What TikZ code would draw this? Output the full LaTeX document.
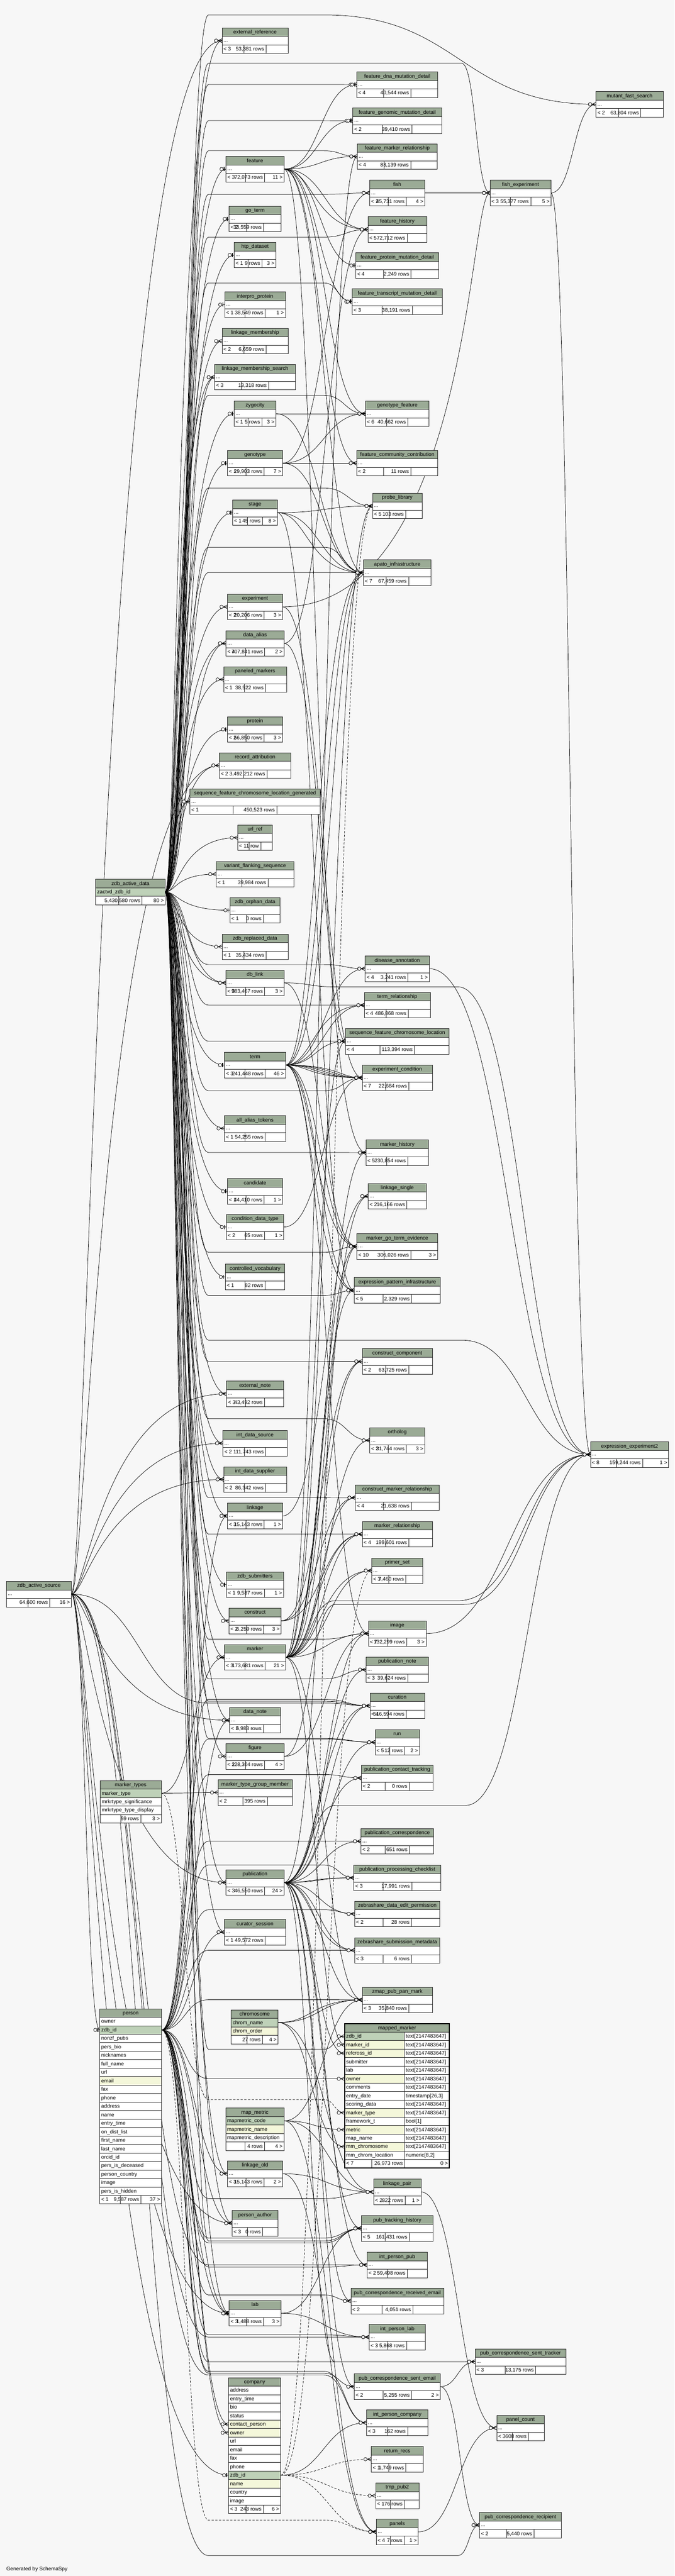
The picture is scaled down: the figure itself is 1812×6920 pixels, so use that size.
\documentclass[tikz,border=0pt]{standalone}
\usepackage{fontspec}
\setmainfont{Liberation Sans}
\usetikzlibrary{calc}
\pgfdeclarelayer{bglayer}
\pgfdeclarelayer{edges}
\pgfdeclarelayer{marks}
\pgfsetlayers{bglayer,edges,marks,main}
\definecolor{bg}{HTML}{F7F7F7}
\definecolor{hdr}{HTML}{9BAB96}
\definecolor{pk}{HTML}{BED1B8}
\definecolor{idx}{HTML}{F4F7DA}
\newlength\twd
\newcommand\tfont{\fontsize{14}{16}\selectfont}
\tikzset{
 cellbox/.style={draw=black!85, line width=0.9pt, inner sep=0pt, outer sep=0pt, minimum height=22.8pt, anchor=north},
 hdrbox/.style={cellbox, fill=hdr},
 rowbox/.style={cellbox, fill=white},
 cellline/.style={draw=black!85, line width=0.9pt},
 tblnode/.style={inner sep=0pt, outer sep=0pt, minimum height=68.4pt, anchor=north},
 txt/.style={inner sep=0pt, outer sep=0pt, font=\tfont},
 conn/.style={draw=black, line width=1pt},
 imp/.style={dash pattern=on 6pt off 4pt},
 mkline/.style={draw=black, line width=1pt},
}
% footer row
\newcommand\tfoot[7]{%
  \node[rowbox, minimum width=#4pt] (#1-f) at (#2,#3) {};
  \settowidth{\twd}{\tfont #6}%
  \pgfmathsetmacro\mw{max(\twd+12,#4/3)}%
  \draw[cellline] ({#2-\mw/2},{#3}) -- ++(0,22.8);
  \draw[cellline] ({#2+\mw/2},{#3}) -- ++(0,22.8);
  \node[txt, anchor=base west] (#1-fl) at ({#2-#4/2+4},{#3+16}) {#5};
  \node[txt, anchor=base east] (#1-fm) at ({#2+\mw/2-5},{#3+16}) {#6};
  \node[txt, anchor=base east] (#1-fr) at ({#2+#4/2-4},{#3+16}) {#7};
}
% collapsed table: name cx top width title left mid right
\newcommand\tbl[8]{%
  \node[tblnode, minimum width=#4pt] (#1) at (#2,#3) {};
  \node[hdrbox, minimum width=#4pt] (#1-h) at (#2,#3) {};
  \node[txt, anchor=base] (#1-ht) at (#2,{#3+16}) {#5};
  \node[rowbox, minimum width=#4pt] (#1-r) at (#2,{#3+22.8}) {};
  \node[txt, anchor=base west] (#1-rt) at ({#2-#4/2+4},{#3+22.8+15}) {...};
  \tfoot{#1}{#2}{#3+45.6}{#4}{#6}{#7}{#8}%
}
% expanded table: name cx top width title nrows rows
\newcommand\xtbl[7]{%
  \pgfmathsetmacro\xh{22.8*(#6+2)}%
  \node[tblnode, minimum width=#4pt, minimum height=\xh pt] (#1) at (#2,#3) {};
  \node[hdrbox, minimum width=#4pt] (#1-h) at (#2,#3) {};
  \node[txt, anchor=base] (#1-ht) at (#2,{#3+16}) {#5};
  \foreach [count=\i] \rc/\rtx in {#7}{%
    \node[cellbox, fill=\rc, minimum width=#4pt] (#1-\i) at (#2,{#3+22.8*\i}) {};
    \node[txt, anchor=base west] (#1-\i-t) at ({#2-#4/2+4},{#3+22.8*\i+16}) {\rtx};
  }%
}
% end markers
\newcommand\mkm[1]{%
  \draw[mkline] ($(#1)+(-11,0)$) -- ($(#1)+(0,-5)$) ($(#1)+(-11,0)$) -- ($(#1)+(0,5)$) ($(#1)+(-11,0)$) -- (#1);
  \draw[mkline, fill=bg] ($(#1)+(-16,0)$) circle[radius=4.5];}
\newcommand\mko[1]{%
  \draw[mkline, line width=2pt] ($(#1)+(-5,-5.5)$) -- ($(#1)+(-5,5.5)$);
  \draw[mkline, fill=bg] ($(#1)+(-12,0)$) circle[radius=4.5];}
% connectors
\newcommand\Ea[6][]{%
  \begin{pgfonlayer}{edges}
  \draw[conn,#1] let \p1=(#2), \p2=(#3), \n1={#5*(\x2-\x1)}, \n2={#6*(\x2-\x1)} in
    (\p1) .. controls +(\n1,0pt) and +(-\n2,0pt) .. (\p2);
  \end{pgfonlayer}
  \begin{pgfonlayer}{marks}\csname mk#4\endcsname{#3}\end{pgfonlayer}}
\newcommand\Ed[4][]{\Ea[#1]{#2}{#3}{#4}{0.5}{0.5}}
\newcommand\Ez[4][]{\Ea[#1]{#2}{#3}{#4}{0.2}{0.8}}
\newcommand\Eg[7][]{%
  \begin{pgfonlayer}{edges}
  \draw[conn,#1] let \p1=(#2), \p2=(#3), \p3=(#6,#5), \p4=(#7,#5),
      \n1={0.5*(\x3-\x1)}, \n2={0.5*(\x2-\x4)} in
    (\p1) .. controls +(\n1,0pt) and +(-\n1,0pt) .. (\p3) -- (\p4)
      .. controls +(\n2,0pt) and +(-\n2,0pt) .. (\p2);
  \end{pgfonlayer}
  \begin{pgfonlayer}{marks}\csname mk#4\endcsname{#3}\end{pgfonlayer}}
\newcommand\Eb[5][]{\Eg[#1]{#2}{#3}{#4}{#5}{560}{870}}
\begin{document}
\begin{tikzpicture}[x=1pt, y=-1pt, font=\tfont]
\useasboundingbox (0,0) rectangle (1812,6920);
\begin{pgfonlayer}{bglayer}
\fill[bg] (0,0) rectangle (1812,6920);
\end{pgfonlayer}

% ---------------- column A / B
\tbl{zas}{104.5}{4248}{175}{zdb\_active\_source}{}{64,600 rows}{16 >}
\xtbl{zad}{350.5}{2362}{187}{zdb\_active\_data}{1}{pk/zactvd\_zdb\_id}
\tfoot{zad}{350.5}{2362+45.6}{187}{}{5,430,580 rows}{80 >}
\xtbl{mtypes}{351}{4783}{164}{marker\_types}{3}{pk/marker\_type, white/mrkrtype\_significance, white/mrkrtype\_type\_display}
\tfoot{mtypes}{351}{4783+91.2}{164}{}{59 rows}{3 >}
\xtbl{person}{351}{5396}{166}{person}{21}{white/owner, pk/zdb\_id, white/nonzf\_pubs, white/pers\_bio, white/nicknames, white/full\_name, white/url, idx/email, white/fax, white/phone, white/address, white/name, white/entry\_time, white/on\_dist\_list, white/first\_name, white/last\_name, white/orcid\_id, white/pers\_is\_deceased, white/person\_country, white/image, white/pers\_is\_hidden}
\tfoot{person}{351}{5396+501.6}{166}{< 1}{9,587 rows}{37 >}

% ---------------- column C
\tbl{extref}{685}{75}{177}{external\_reference}{< 3}{53,381 rows}{}
\tbl{feature}{685}{420}{156}{feature}{< 3}{72,073 rows}{11 >}
\tbl{goterm}{685}{554}{139}{go\_term}{< 2}{33,559 rows}{}
\tbl{htp}{685}{651}{112}{htp\_dataset}{< 1}{9 rows}{3 >}
\tbl{interpro}{685}{784}{163}{interpro\_protein}{< 1}{38,549 rows}{1 >}
\tbl{lm}{685}{882}{177}{linkage\_membership}{< 2}{6,659 rows}{}
\tbl{lms}{685}{979}{217}{linkage\_membership\_search}{< 3}{13,318 rows}{}
\tbl{zyg}{685}{1077}{112}{zygocity}{< 1}{5 rows}{3 >}
\tbl{genotype}{685}{1210}{148}{genotype}{< 1}{29,903 rows}{7 >}
\tbl{stage}{685}{1343}{120}{stage}{< 1}{45 rows}{8 >}
\tbl{experiment}{685}{1596}{148}{experiment}{< 2}{20,206 rows}{3 >}
\tbl{dalias}{685}{1694}{156}{data\_alias}{< 4}{707,841 rows}{2 >}
\tbl{paneled}{685}{1791}{169}{paneled\_markers}{< 1}{38,522 rows}{}
\tbl{protein}{685}{1925}{148}{protein}{< 2}{56,850 rows}{3 >}
\tbl{recattr}{685}{2022}{192}{record\_attribution}{< 2}{3,492,212 rows}{}
\tbl{sfclg}{685}{2119}{350}{sequence\_feature\_chromosome\_location\_generated}{< 1}{450,523 rows}{}
\tbl{urlref}{685}{2216}{93}{url\_ref}{< 1}{1 row}{}
\tbl{vfs}{685}{2314}{209}{variant\_flanking\_sequence}{< 1}{39,984 rows}{}
\tbl{orphan}{685}{2411}{135}{zdb\_orphan\_data}{< 1}{0 rows}{}
\tbl{replaced}{685}{2509}{177}{zdb\_replaced\_data}{< 1}{35,434 rows}{}
\tbl{dblink}{685}{2606}{156}{db\_link}{< 3}{983,467 rows}{3 >}
\tbl{term}{685}{2827}{164}{term}{< 3}{241,448 rows}{46 >}
\tbl{aat}{685}{2997}{164}{all\_alias\_tokens}{< 1}{54,255 rows}{}
\tbl{candidate}{685}{3166}{148}{candidate}{< 1}{44,410 rows}{1 >}
\tbl{cdt}{685}{3262}{154}{condition\_data\_type}{< 2}{65 rows}{1 >}
\tbl{cv}{685}{3396}{160}{controlled\_vocabulary}{< 1}{82 rows}{}
\tbl{extnote}{685}{3710}{153}{external\_note}{< 3}{43,492 rows}{}
\tbl{ids}{685}{3843}{172}{int\_data\_source}{< 2}{111,743 rows}{}
\tbl{idsup}{685}{3940}{169}{int\_data\_supplier}{< 2}{86,342 rows}{}
\tbl{linkage}{685}{4038}{148}{linkage}{< 3}{15,143 rows}{1 >}
\tbl{zsub}{685}{4223}{153}{zdb\_submitters}{< 1}{9,587 rows}{1 >}
\tbl{construct}{685}{4320}{140}{construct}{< 2}{6,259 rows}{3 >}
\tbl{marker}{685}{4418}{164}{marker}{< 3}{173,681 rows}{21 >}
\tbl{datanote}{685}{4587}{136}{data\_note}{< 3}{6,983 rows}{}
\tbl{figure}{685}{4684}{156}{figure}{< 2}{128,304 rows}{4 >}
\tbl{mtgm}{685}{4781}{199}{marker\_type\_group\_member}{< 2}{395 rows}{}
\tbl{pub}{685}{5023}{156}{publication}{< 3}{46,550 rows}{24 >}
\tbl{cursess}{685}{5156}{164}{curator\_session}{< 1}{49,572 rows}{}
\xtbl{chrom}{684}{5399}{126}{chromosome}{2}{pk/chrom\_name, idx/chrom\_order}
\tfoot{chrom}{684}{5399+68.4}{126}{}{27 rows}{4 >}
\xtbl{mmet}{684.5}{5663}{157}{map\_metric}{3}{pk/mapmetric\_code, idx/mapmetric\_name, white/mapmetric\_description}
\tfoot{mmet}{684.5}{5663+91.2}{157}{}{4 rows}{4 >}
\tbl{lold}{685}{5805}{148}{linkage\_old}{< 3}{15,143 rows}{2 >}
\tbl{pauthor}{685}{5938}{123}{person\_author}{< 3}{0 rows}{}
\tbl{lab}{685}{6180}{139}{lab}{< 3}{1,488 rows}{3 >}
\xtbl{company}{684}{6387}{140}{company}{14}{white/address, white/entry\_time, white/bio, white/status, idx/contact\_person, idx/owner, white/url, white/email, white/fax, white/phone, pk/zdb\_id, idx/name, white/country, white/image}
\tfoot{company}{684}{6387+342}{140}{< 3}{243 rows}{6 >}

% ---------------- column D
\tbl{fdmd}{1067}{193}{218}{feature\_dna\_mutation\_detail}{< 4}{40,544 rows}{}
\tbl{fgmd}{1067}{290}{239}{feature\_genomic\_mutation\_detail}{< 2}{39,410 rows}{}
\tbl{fmr}{1067}{386}{215}{feature\_marker\_relationship}{< 4}{83,139 rows}{}
\tbl{fish}{1067}{484}{148}{fish}{< 2}{45,731 rows}{4 >}
\tbl{fhist}{1067}{582}{158}{feature\_history}{< 5}{72,712 rows}{}
\tbl{fpmd}{1067}{679}{223}{feature\_protein\_mutation\_detail}{< 4}{2,249 rows}{}
\tbl{ftmd}{1067}{776}{242}{feature\_transcript\_mutation\_detail}{< 3}{38,191 rows}{}
\tbl{gfeat}{1067}{1077}{171}{genotype\_feature}{< 6}{40,662 rows}{}
\tbl{fcc}{1067}{1210}{218}{feature\_community\_contribution}{< 2}{11 rows}{}
\tbl{problib}{1067}{1325}{133}{probe\_library}{< 5}{103 rows}{}
\tbl{apato}{1067}{1504}{182}{apato\_infrastructure}{< 7}{67,459 rows}{}
\tbl{disann}{1067}{2568}{172}{disease\_annotation}{< 4}{3,241 rows}{1 >}
\tbl{termrel}{1067}{2666}{177}{term\_relationship}{< 4}{486,868 rows}{}
\tbl{sfcl}{1067}{2763}{279}{sequence\_feature\_chromosome\_location}{< 4}{113,394 rows}{}
\tbl{expcond}{1067}{2861}{188}{experiment\_condition}{< 7}{22,684 rows}{}
\tbl{mhist}{1067}{3062}{168}{marker\_history}{< 5}{230,854 rows}{}
\tbl{lsingle}{1067}{3179}{156}{linkage\_single}{< 2}{16,166 rows}{}
\tbl{mgte}{1067}{3314}{217}{marker\_go\_term\_evidence}{< 10}{306,026 rows}{3 >}
\tbl{epi}{1067}{3432}{231}{expression\_pattern\_infrastructure}{< 5}{2,329 rows}{}
\tbl{ccomp}{1067}{3623}{188}{construct\_component}{< 2}{63,725 rows}{}
\tbl{ortho}{1067}{3835}{148}{ortholog}{< 2}{31,744 rows}{3 >}
\tbl{cmr}{1067}{3989}{225}{construct\_marker\_relationship}{< 4}{21,638 rows}{}
\tbl{mrel}{1067}{4087}{188}{marker\_relationship}{< 4}{199,601 rows}{}
\tbl{pset}{1067}{4185}{137}{primer\_set}{< 3}{7,460 rows}{}
\tbl{image}{1067}{4354}{155}{image}{< 7}{132,299 rows}{3 >}
\tbl{pnote}{1067}{4451}{168}{publication\_note}{< 3}{39,624 rows}{}
\tbl{curation}{1067}{4548}{147}{curation}{< 4}{516,594 rows}{}
\tbl{run}{1067}{4646}{119}{run}{< 5}{12 rows}{2 >}
\tbl{pct}{1067}{4742}{193}{publication\_contact\_tracking}{< 2}{0 rows}{}
\tbl{pcorr}{1067}{4912}{195}{publication\_correspondence}{< 2}{651 rows}{}
\tbl{ppc}{1067}{5010}{233}{publication\_processing\_checklist}{< 3}{17,991 rows}{}
\tbl{zdep}{1067}{5107}{229}{zebrashare\_data\_edit\_permission}{< 2}{28 rows}{}
\tbl{zsm}{1067}{5205}{229}{zebrashare\_submission\_metadata}{< 3}{6 rows}{}
\tbl{zmap}{1067}{5338}{188}{zmap\_pub\_pan\_mark}{< 3}{35,840 rows}{}
% mapped_marker (expanded, two columns)
\node[tblnode, minimum width=281pt, minimum height=387.6pt] (mm) at (1066.5,5436) {};
\node[hdrbox, minimum width=281pt] (mm-h) at (1066.5,5436) {};
\node[txt, anchor=base] (mm-ht) at (1066.5,5452) {mapped\_marker};
\foreach [count=\i] \rc/\rtx/\rty in {pk/zdb\_id/text[2147483647], idx/marker\_id/text[2147483647], idx/refcross\_id/text[2147483647], white/submitter/text[2147483647], white/lab/text[2147483647], idx/owner/text[2147483647], white/comments/text[2147483647], white/entry\_date/{timestamp[26,3]}, white/scoring\_data/text[2147483647], idx/marker\_type/text[2147483647], white/framework\_t/bool[1], idx/metric/text[2147483647], white/map\_name/text[2147483647], idx/mm\_chromosome/text[2147483647], white/mm\_chrom\_location/{numeric[8,2]}}{%
  \node[cellbox, fill=\rc, minimum width=160pt, anchor=north west] (mm-\i) at (926,{5436+22.8*\i}) {};
  \node[cellbox, fill=white, minimum width=121pt, anchor=north west] (mm-\i-y) at (1086,{5436+22.8*\i}) {};
  \node[txt, anchor=base west] (mm-\i-t) at (930,{5436+22.8*\i+16}) {\rtx};
  \node[txt, anchor=base west] (mm-\i-u) at (1090,{5436+22.8*\i+16}) {\rty};
}
\node[rowbox, minimum width=281pt] (mm-f) at (1066.5,5800.8) {};
\draw[cellline] (998,5800.8) -- ++(0,22.8);
\draw[cellline] (1086,5800.8) -- ++(0,22.8);
\node[txt, anchor=base west] (mm-fl) at (930,5816.8) {< 7};
\node[txt, anchor=base east] (mm-fm) at (1082,5816.8) {26,973 rows};
\node[txt, anchor=base east] (mm-fr) at (1203,5816.8) {0 >};
\draw[line width=3pt] (926,5436) rectangle (1207,5823.6);
\tbl{lpair}{1067}{5854}{127}{linkage\_pair}{< 2}{822 rows}{1 >}
\tbl{pth}{1067}{5952}{193}{pub\_tracking\_history}{< 5}{161,431 rows}{}
\tbl{ipp}{1067}{6050}{162}{int\_person\_pub}{< 2}{59,498 rows}{}
\tbl{pcre}{1067}{6147}{249}{pub\_correspondence\_received\_email}{< 2}{4,051 rows}{}
\tbl{ipl}{1067}{6244}{151}{int\_person\_lab}{< 3}{5,868 rows}{}
\tbl{pcse}{1067}{6377}{231}{pub\_correspondence\_sent\_email}{< 2}{5,255 rows}{2 >}
\tbl{ipc}{1067}{6474}{165}{int\_person\_company}{< 3}{162 rows}{}
\tbl{retrecs}{1067}{6572}{139}{return\_recs}{< 1}{1,749 rows}{}
\tbl{tmppub}{1067}{6670}{116}{tmp\_pub2}{< 1}{76 rows}{}
\tbl{panels}{1067}{6767}{113}{panels}{< 4}{7 rows}{1 >}

% ---------------- columns E / F
\tbl{fexp}{1398}{484}{164}{fish\_experiment}{< 3}{55,377 rows}{5 >}
\tbl{pcst}{1398}{6310}{244}{pub\_correspondence\_sent\_tracker}{< 3}{13,175 rows}{}
\tbl{pcount}{1398}{6488}{128}{panel\_count}{< 3}{608 rows}{}
\tbl{pcr}{1398}{6749}{220}{pub\_correspondence\_recipient}{< 2}{5,440 rows}{}
\tbl{mfs}{1691}{246}{180}{mutant\_fast\_search}{< 2}{63,804 rows}{}
\tbl{ee2}{1691}{3873}{210}{expression\_experiment2}{< 8}{159,244 rows}{1 >}

\node[txt, anchor=base west] (gen) at (17,6905) {Generated by SchemaSpy};

% ================= connectors
% zdb_active_data -> column C
\Ez{zad-1.east}{extref.west}{m}
\Ez{zad-1.east}{feature.west}{o}
\Ez{zad-1.east}{goterm.west}{o}
\Ez{zad-1.east}{htp.west}{o}
\Ez{zad-1.east}{interpro.west}{o}
\Ez{zad-1.east}{lm.west}{m}
\Ez{zad-1.east}{lms.west}{m}
\Ea{zad-1.east}{lms.west}{m}{0.35}{0.65}
\Ez{zad-1.east}{zyg.west}{o}
\Ez{zad-1.east}{genotype.west}{o}
\Ez{zad-1.east}{stage.west}{o}
\Ez{zad-1.east}{experiment.west}{m}
\Ez{zad-1.east}{dalias.west}{m}
\Ea{zad-1.east}{dalias.west}{m}{0.35}{0.65}
\Ez{zad-1.east}{paneled.west}{m}
\Ez{zad-1.east}{protein.west}{o}
\Ez{zad-1.east}{recattr.west}{m}
\Ez{zad-1.east}{sfclg.west}{m}
\Ez{zad-1.east}{urlref.west}{m}
\Ez{zad-1.east}{vfs.west}{m}
\Ez{zad-1.east}{orphan.west}{o}
\Ez{zad-1.east}{replaced.west}{m}
\Ez{zad-1.east}{dblink.west}{m}
\Ea{zad-1.east}{dblink.west}{m}{0.35}{0.65}
\Ez{zad-1.east}{term.west}{o}
\Ez{zad-1.east}{aat.west}{m}
\Ez{zad-1.east}{candidate.west}{o}
\Ez{zad-1.east}{cdt.west}{o}
\Ez{zad-1.east}{cv.west}{o}
\Ez{zad-1.east}{extnote.west}{m}
\Ez{zad-1.east}{ids.west}{m}
\Ez{zad-1.east}{idsup.west}{m}
\Ez{zad-1.east}{linkage.west}{m}
\Ez{zad-1.east}{zsub.west}{o}
\Ez{zad-1.east}{construct.west}{m}
\Ez{zad-1.east}{marker.west}{m}
\Ez{zad-1.east}{datanote.west}{m}
\Ez{zad-1.east}{figure.west}{m}
\Ez{zad-1.east}{pub.west}{m}
\Ez{zad-1.east}{cursess.west}{m}
\Ez{zad-1.east}{lold.west}{m}
\Ez{zad-1.east}{pauthor.west}{m}
\Ez{zad-1.east}{lab.west}{m}
% zdb_active_data -> column D (through gaps of column C)
\Eb{zad-1.east}{fdmd.west}{m}{227}
\Eb{zad-1.east}{fgmd.west}{m}{324}
\Eb{zad-1.east}{fmr.west}{m}{405}
\Eb{zad-1.east}{fish.west}{m}{522}
\Eb{zad-1.east}{fhist.west}{m}{637}
\Eb{zad-1.east}{ftmd.west}{m}{760}
\Eb{zad-1.east}{gfeat.west}{m}{1062}
\Eb{zad-1.east}{problib.west}{m}{1311}
\Eb{zad-1.east}{apato.west}{m}{1538}
\Eb{zad-1.east}{apato.west}{m}{1470}
\Eb{zad-1.east}{disann.west}{m}{2591}
\Eb{zad-1.east}{termrel.west}{m}{2700}
\Eb{zad-1.east}{sfcl.west}{m}{2797}
\Eb{zad-1.east}{expcond.west}{m}{2930}
\Eb{zad-1.east}{mhist.west}{m}{3096}
\Eb{zad-1.east}{mgte.west}{m}{3364}
\Eb{zad-1.east}{epi.west}{m}{3480}
\Eb{zad-1.east}{ccomp.west}{m}{3657}
\Eb{zad-1.east}{ortho.west}{m}{3811}
\Eb{zad-1.east}{cmr.west}{m}{4023}
\Eb{zad-1.east}{mrel.west}{m}{4121}
\Eb{zad-1.east}{image.west}{m}{4403}
\Eb{zad-1.east}{pnote.west}{m}{4510}
\Eb{zad-1.east}{curation.west}{m}{4570}
\Eb{zad-1.east}{run.west}{m}{4670}
\Eb{zad-1.east}{mm-1.west}{m}{5505}
\Eb{zad-1.east}{pth.west}{m}{6020}
\Eg{zad-1.east}{mfs.west}{m}{40}{560}{870}
\Eg{zad-1.east}{fexp.west}{m}{170}{560}{1240}
\Eg{zad-1.east}{ee2.west}{m}{3600}{560}{1240}
% zdb_active_source
\Ed{zas.east}{person-2.west}{o}
\Ea{zas.east}{lab.west}{o}{0.1}{0.8}
\Ea{zas.east}{company-11.west}{o}{0.1}{0.8}
\Ea{zas.east}{pub.west}{m}{0.1}{0.8}
\Ea{zas.east}{recattr.west}{m}{0.1}{0.8}
\Ea{zas.east}{ids.west}{m}{0.1}{0.8}
\Ea{zas.east}{idsup.west}{m}{0.1}{0.8}
\Ea{zas.east}{extnote.west}{m}{0.1}{0.8}
\Ea{zas.east}{datanote.west}{m}{0.1}{0.8}
\Ea{zas.east}{extref.west}{m}{0.1}{0.8}
\Ea{zas.east}{pauthor.west}{m}{0.1}{0.8}
\Eb{zas.east}{ipp.west}{m}{6084}
\Eb{zas.east}{ipl.west}{m}{6278}
\Eb{zas.east}{ipc.west}{m}{6380}
\Eb{zas.east}{curation.west}{m}{4575}
\Eg{zas.east}{pcr.west}{m}{6865}{560}{1230}
% person
\Ed{person-2.east}{pauthor.west}{m}
\Ed{person-2.east}{lab.west}{m}
\Ea{person-2.east}{lab.west}{m}{0.4}{0.6}
\Ed{person-2.east}{company-5.west}{m}
\Ed{person-2.east}{company-6.west}{m}
\Ed{person-2.east}{cursess.west}{m}
\Ed{person-2.east}{lold.west}{m}
\Ed{person-2.east}{linkage.west}{m}
\Ed{person-2.east}{datanote.west}{m}
\Eb{person-2.east}{ipp.west}{m}{6090}
\Eb{person-2.east}{ipl.west}{m}{6272}
\Eb{person-2.east}{ipc.west}{m}{6370}
\Eb{person-2.east}{pth.west}{m}{6025}
\Eb{person-2.east}{pth.west}{m}{6012}
\Eb{person-2.east}{pcre.west}{m}{6165}
\Eb{person-2.east}{pcse.west}{m}{6375}
\Eb{person-2.east}{pct.west}{m}{4767}
\Eb{person-2.east}{pcorr.west}{m}{4946}
\Eb{person-2.east}{ppc.west}{m}{5010}
\Eb{person-2.east}{zdep.west}{m}{5130}
\Eb{person-2.east}{zsm.west}{m}{5239}
\Eb{person-2.east}{zmap.west}{m}{5372}
\Eb{person-2.east}{mm-6.west}{m}{5584}
\Eb{person-2.east}{curation.west}{m}{4565}
\Eb{person-2.east}{run.west}{m}{4672}
\Eb{person-2.east}{lpair.west}{m}{5906}
\Eb[imp]{person-2.east}{panels.west}{m}{6770}
\Eg{person-2.east}{pcst.west}{m}{6345}{560}{1230}
% marker_types
\Ed{mtypes-1.east}{mtgm.west}{m}
\Ed{mtypes-1.east}{marker.west}{m}
\Eb[imp]{mtypes-1.east}{mm-10.west}{m}{5640}
% feature
\Ed{feature.east}{fdmd.west}{o}
\Ed{feature.east}{fgmd.west}{o}
\Ed{feature.east}{fmr.west}{m}
\Ed{feature.east}{fhist.west}{m}
\Ea{feature.east}{fhist.west}{m}{0.35}{0.65}
\Ed{feature.east}{fpmd.west}{o}
\Ed{feature.east}{ftmd.west}{o}
\Ed{feature.east}{gfeat.west}{m}
\Ed{feature.east}{fcc.west}{m}
\Ed{feature.east}{sfcl.west}{m}
\Ed{feature.east}{apato.west}{m}
% zygocity, genotype, stage, experiment
\Ed{zyg.east}{gfeat.west}{m}
\Ea{zyg.east}{gfeat.west}{m}{0.3}{0.7}
\Ed{zyg.east}{apato.west}{m}
\Ed{genotype.east}{fish.west}{m}
\Ed{genotype.east}{gfeat.west}{m}
\Ed{genotype.east}{apato.west}{m}
\Ed{genotype.east}{fcc.west}{m}
\Ed{stage.east}{problib.west}{m}
\Ed{stage.east}{apato.west}{m}
\Ea{stage.east}{apato.west}{m}{0.35}{0.65}
\Ed{stage.east}{epi.west}{m}
\Ea{experiment.east}{fexp.west}{m}{0.9}{0.1}
\Ed{experiment.east}{expcond.west}{m}
\Ed{dalias.east}{fhist.west}{m}
\Ed{dalias.east}{mhist.west}{m}
% db_link
\Ed{dblink.east}{mgte.west}{m}
\Eg{dblink.east}{ee2.west}{m}{2651}{900}{1230}
% term
\Ed{term.east}{disann.west}{m}
\Ed{term.east}{termrel.west}{m}
\Ea{term.east}{termrel.west}{m}{0.35}{0.65}
\Ed{term.east}{sfcl.west}{m}
\Ed{term.east}{expcond.west}{m}
\Ea{term.east}{expcond.west}{m}{0.3}{0.7}
\Ea{term.east}{expcond.west}{m}{0.4}{0.6}
\Ea{term.east}{expcond.west}{m}{0.6}{0.4}
\Ea{term.east}{expcond.west}{m}{0.7}{0.3}
\Ed{term.east}{mgte.west}{m}
\Ea{term.east}{mgte.west}{m}{0.4}{0.6}
\Ed{term.east}{epi.west}{m}
\Ea{term.east}{epi.west}{m}{0.4}{0.6}
\Ed{term.east}{apato.west}{m}
\Ea{term.east}{apato.west}{m}{0.4}{0.6}
\Ea{term.east}{apato.west}{m}{0.6}{0.4}
\Ed{term.east}{image.west}{m}
\Ed{cdt.east}{expcond.west}{m}
\Ed{linkage.east}{lsingle.west}{m}
% construct, marker
\Ed{construct.east}{ccomp.west}{m}
\Ed{construct.east}{cmr.west}{m}
\Ed{construct.east}{mrel.west}{m}
\Ed{marker.east}{mhist.west}{m}
\Ed{marker.east}{lsingle.west}{m}
\Ed{marker.east}{mgte.west}{m}
\Ed{marker.east}{ccomp.west}{m}
\Ed{marker.east}{ortho.west}{m}
\Ed{marker.east}{cmr.west}{m}
\Ed{marker.east}{mrel.west}{m}
\Ea{marker.east}{mrel.west}{m}{0.4}{0.6}
\Ed{marker.east}{pset.west}{m}
\Ea{marker.east}{pset.west}{m}{0.4}{0.6}
\Ed{marker.east}{problib.west}{m}
\Ed{marker.east}{fmr.west}{m}
\Ed{marker.east}{sfcl.west}{m}
\Ed{marker.east}{mm-2.west}{m}
\Ed{marker.east}{zmap.west}{m}
\Ed{marker.east}{epi.west}{m}
\Ed{marker.east}{image.west}{m}
\Eg{marker.east}{ee2.west}{m}{4300}{900}{1230}
\Ed{figure.east}{image.west}{m}
\Eg{figure.east}{ee2.west}{m}{4310}{900}{1245}
% publication
\Ed{pub.east}{pct.west}{m}
\Ed{pub.east}{pcorr.west}{m}
\Ed{pub.east}{ppc.west}{m}
\Ea{pub.east}{ppc.west}{m}{0.4}{0.6}
\Ed{pub.east}{zdep.west}{m}
\Ed{pub.east}{zsm.west}{m}
\Ea{pub.east}{zsm.west}{m}{0.4}{0.6}
\Ed{pub.east}{zmap.west}{m}
\Ed{pub.east}{pth.west}{m}
\Ed{pub.east}{ipp.west}{m}
\Ed{pub.east}{pcre.west}{m}
\Ed{pub.east}{pcse.west}{m}
\Ed{pub.east}{pnote.west}{m}
\Ed{pub.east}{curation.west}{m}
\Ea{pub.east}{curation.west}{m}{0.4}{0.6}
\Ed{pub.east}{image.west}{m}
\Ed{pub.east}{run.west}{m}
\Ed{pub.east}{mgte.west}{m}
\Ed{pub.east}{mm-3.west}{m}
\Eg{pub.east}{ee2.west}{m}{4850}{900}{1250}
\Eg{pub.east}{pcst.west}{m}{6345}{900}{1230}
% chromosome, map_metric, linkage_old, lab, company
\Ed{chrom-1.east}{zmap.west}{m}
\Ea{chrom-1.east}{zmap.west}{m}{0.4}{0.6}
\Ed{chrom-1.east}{mm-14.west}{m}
\Ed{chrom-1.east}{lpair.west}{m}
\Ed{mmet-1.east}{zmap.west}{m}
\Ed{mmet-1.east}{mm-12.west}{m}
\Ed{mmet-1.east}{lpair.west}{m}
\Ed{mmet-1.east}{panels.west}{m}
\Ed{lold.east}{lpair.west}{m}
\Ed{lold.east}{panels.west}{m}
\Ed{lab.east}{ipl.west}{m}
\Ed{lab.east}{pth.west}{m}
\Ed{company-11.east}{ipc.west}{m}
\Ed[imp]{company-11.east}{retrecs.west}{m}
\Ed[imp]{company-11.east}{tmppub.west}{m}
\Ed[imp]{company-11.east}{panels.west}{m}
\Ed[imp]{company-11.east}{pset.west}{m}
\Ed[imp]{company-11.east}{problib.west}{m}
% column D -> E / F
\Ed{fish.east}{fexp.west}{m}
\Ed{fexp.east}{mfs.west}{m}
\Ed{fexp.east}{ee2.west}{m}
\Ed{pcse.east}{pcst.west}{m}
\Ed{pcse.east}{pcr.west}{m}
\Ed{panels.east}{pcount.west}{m}
\Ed{lpair.east}{pcount.west}{m}
\Ed{image.east}{ee2.west}{m}
\Ed{disann.east}{ee2.west}{m}
\end{tikzpicture}
\end{document}
